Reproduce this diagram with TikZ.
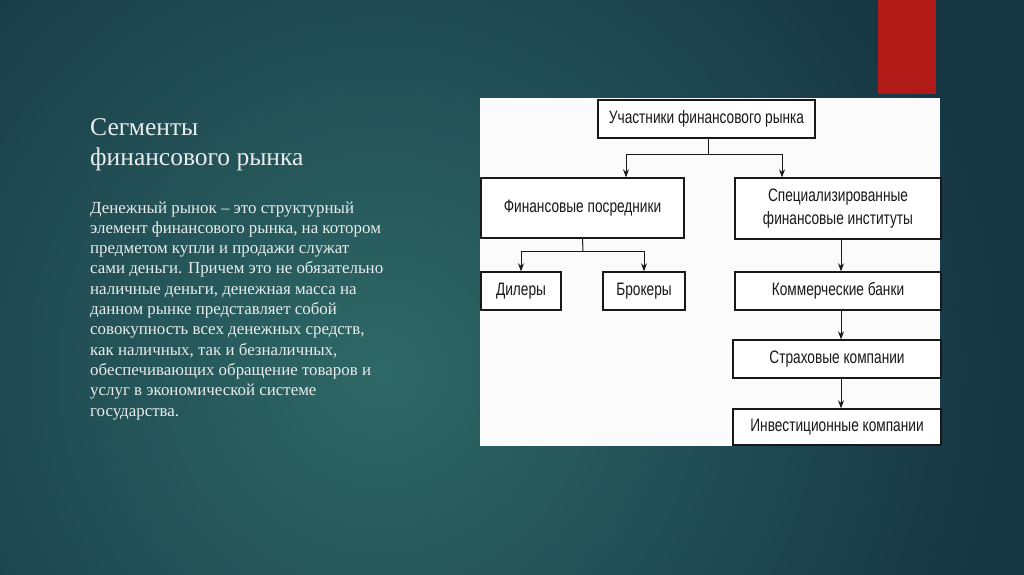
\documentclass[tikz,border=0pt]{standalone}
\usepackage{fontspec}
\setmainfont{Liberation Serif}
\newfontfamily\boxfont[FakeStretch=0.76]{Liberation Sans}
\usetikzlibrary{arrows.meta,calc}
\definecolor{bgout}{RGB}{22,54,68}
\definecolor{bgin}{RGB}{46,104,102}
\definecolor{redbar}{RGB}{178,26,24}
\definecolor{txt}{RGB}{232,236,236}
\definecolor{ink}{RGB}{24,24,24}
\tikzset{
  box/.style={draw=ink, line width=1.4pt, fill=white, text=ink, font=\boxfont\fontsize{18}{20}\selectfont, align=center, inner sep=0pt},
  arr/.style={draw=ink, line width=1pt, -{Stealth[length=8pt,width=6pt]}},
  ln/.style={draw=ink, line width=1pt},
}
\begin{document}
\begin{tikzpicture}[x=1pt,y=-1pt]
\useasboundingbox (0,0) rectangle (1024,574);
% background
\fill[bgout] (-2,-2) rectangle (1026,576);
\begin{scope}
\clip (-2,-2) rectangle (1026,576);
\shade[inner color=bgin, outer color=bgout] (380,370) circle (620);
\end{scope}
% red bar
\fill[redbar] (878,-2) rectangle (936,94);
% white panel
\fill[white!97!gray] (480,98) rectangle (940,446);
% left texts
\node[anchor=base west, text=txt, inner sep=0pt] (title) at (90,135)
  {\parbox[t]{300pt}{\raggedright\fontsize{25.5}{30}\selectfont Сегменты\\финансового рынка}};
\node[anchor=base west, text=txt, inner sep=0pt] (body) at (90,213)
  {\parbox[t]{320pt}{\raggedright\fontsize{16.9}{20.3}\selectfont
   Денежный рынок – это структурный\\
   элемент финансового рынка, на котором\\
   предметом купли и продажи служат\\
   сами деньги. Причем это не обязательно\\
   наличные деньги, денежная масса на\\
   данном рынке представляет собой\\
   совокупность всех денежных средств,\\
   как наличных, так и безналичных,\\
   обеспечивающих обращение товаров и\\
   услуг в экономической системе\\
   государства.}};
% boxes
\node[box, minimum width=217pt, minimum height=38pt] (top) at (706.5,119) {Участники финансового рынка};
\node[box, minimum width=203pt, minimum height=60pt] (fp) at (582.5,208) {Финансовые посредники};
\node[box, minimum width=206pt, minimum height=61pt] (sfi) at (838,208.5) {Специализированные\\[3pt]финансовые институты};
\node[box, minimum width=80pt, minimum height=38pt] (dil) at (521,291) {Дилеры};
\node[box, minimum width=82pt, minimum height=38pt] (bro) at (644,291) {Брокеры};
\node[box, minimum width=206pt, minimum height=38pt] (kb) at (838,291) {Коммерческие банки};
\node[box, minimum width=208pt, minimum height=38pt] (sk) at (837,359) {Страховые компании};
\node[box, minimum width=208pt, minimum height=36pt] (ik) at (837,427) {Инвестиционные компании};
% connectors
\coordinate (j1) at (708,154);
\draw[ln] ([xshift=1.5pt]top.south) -- (j1);
\draw[arr] (j1) -| ([xshift=43.5pt]fp.north);
\draw[arr] (j1) -| ([xshift=-56pt]sfi.north);
\coordinate (j2) at (583,251);
\draw[ln] (fp.south) -- (j2);
\draw[arr] (j2) -| (dil.north);
\draw[arr] (j2) -| (bro.north);
\draw[arr] ([xshift=3pt]sfi.south) -- ([xshift=3pt]kb.north);
\draw[arr] ([xshift=3pt]kb.south) -- ([xshift=4pt]sk.north);
\draw[arr] ([xshift=4pt]sk.south) -- ([xshift=4pt]ik.north);
\end{tikzpicture}
\end{document}
